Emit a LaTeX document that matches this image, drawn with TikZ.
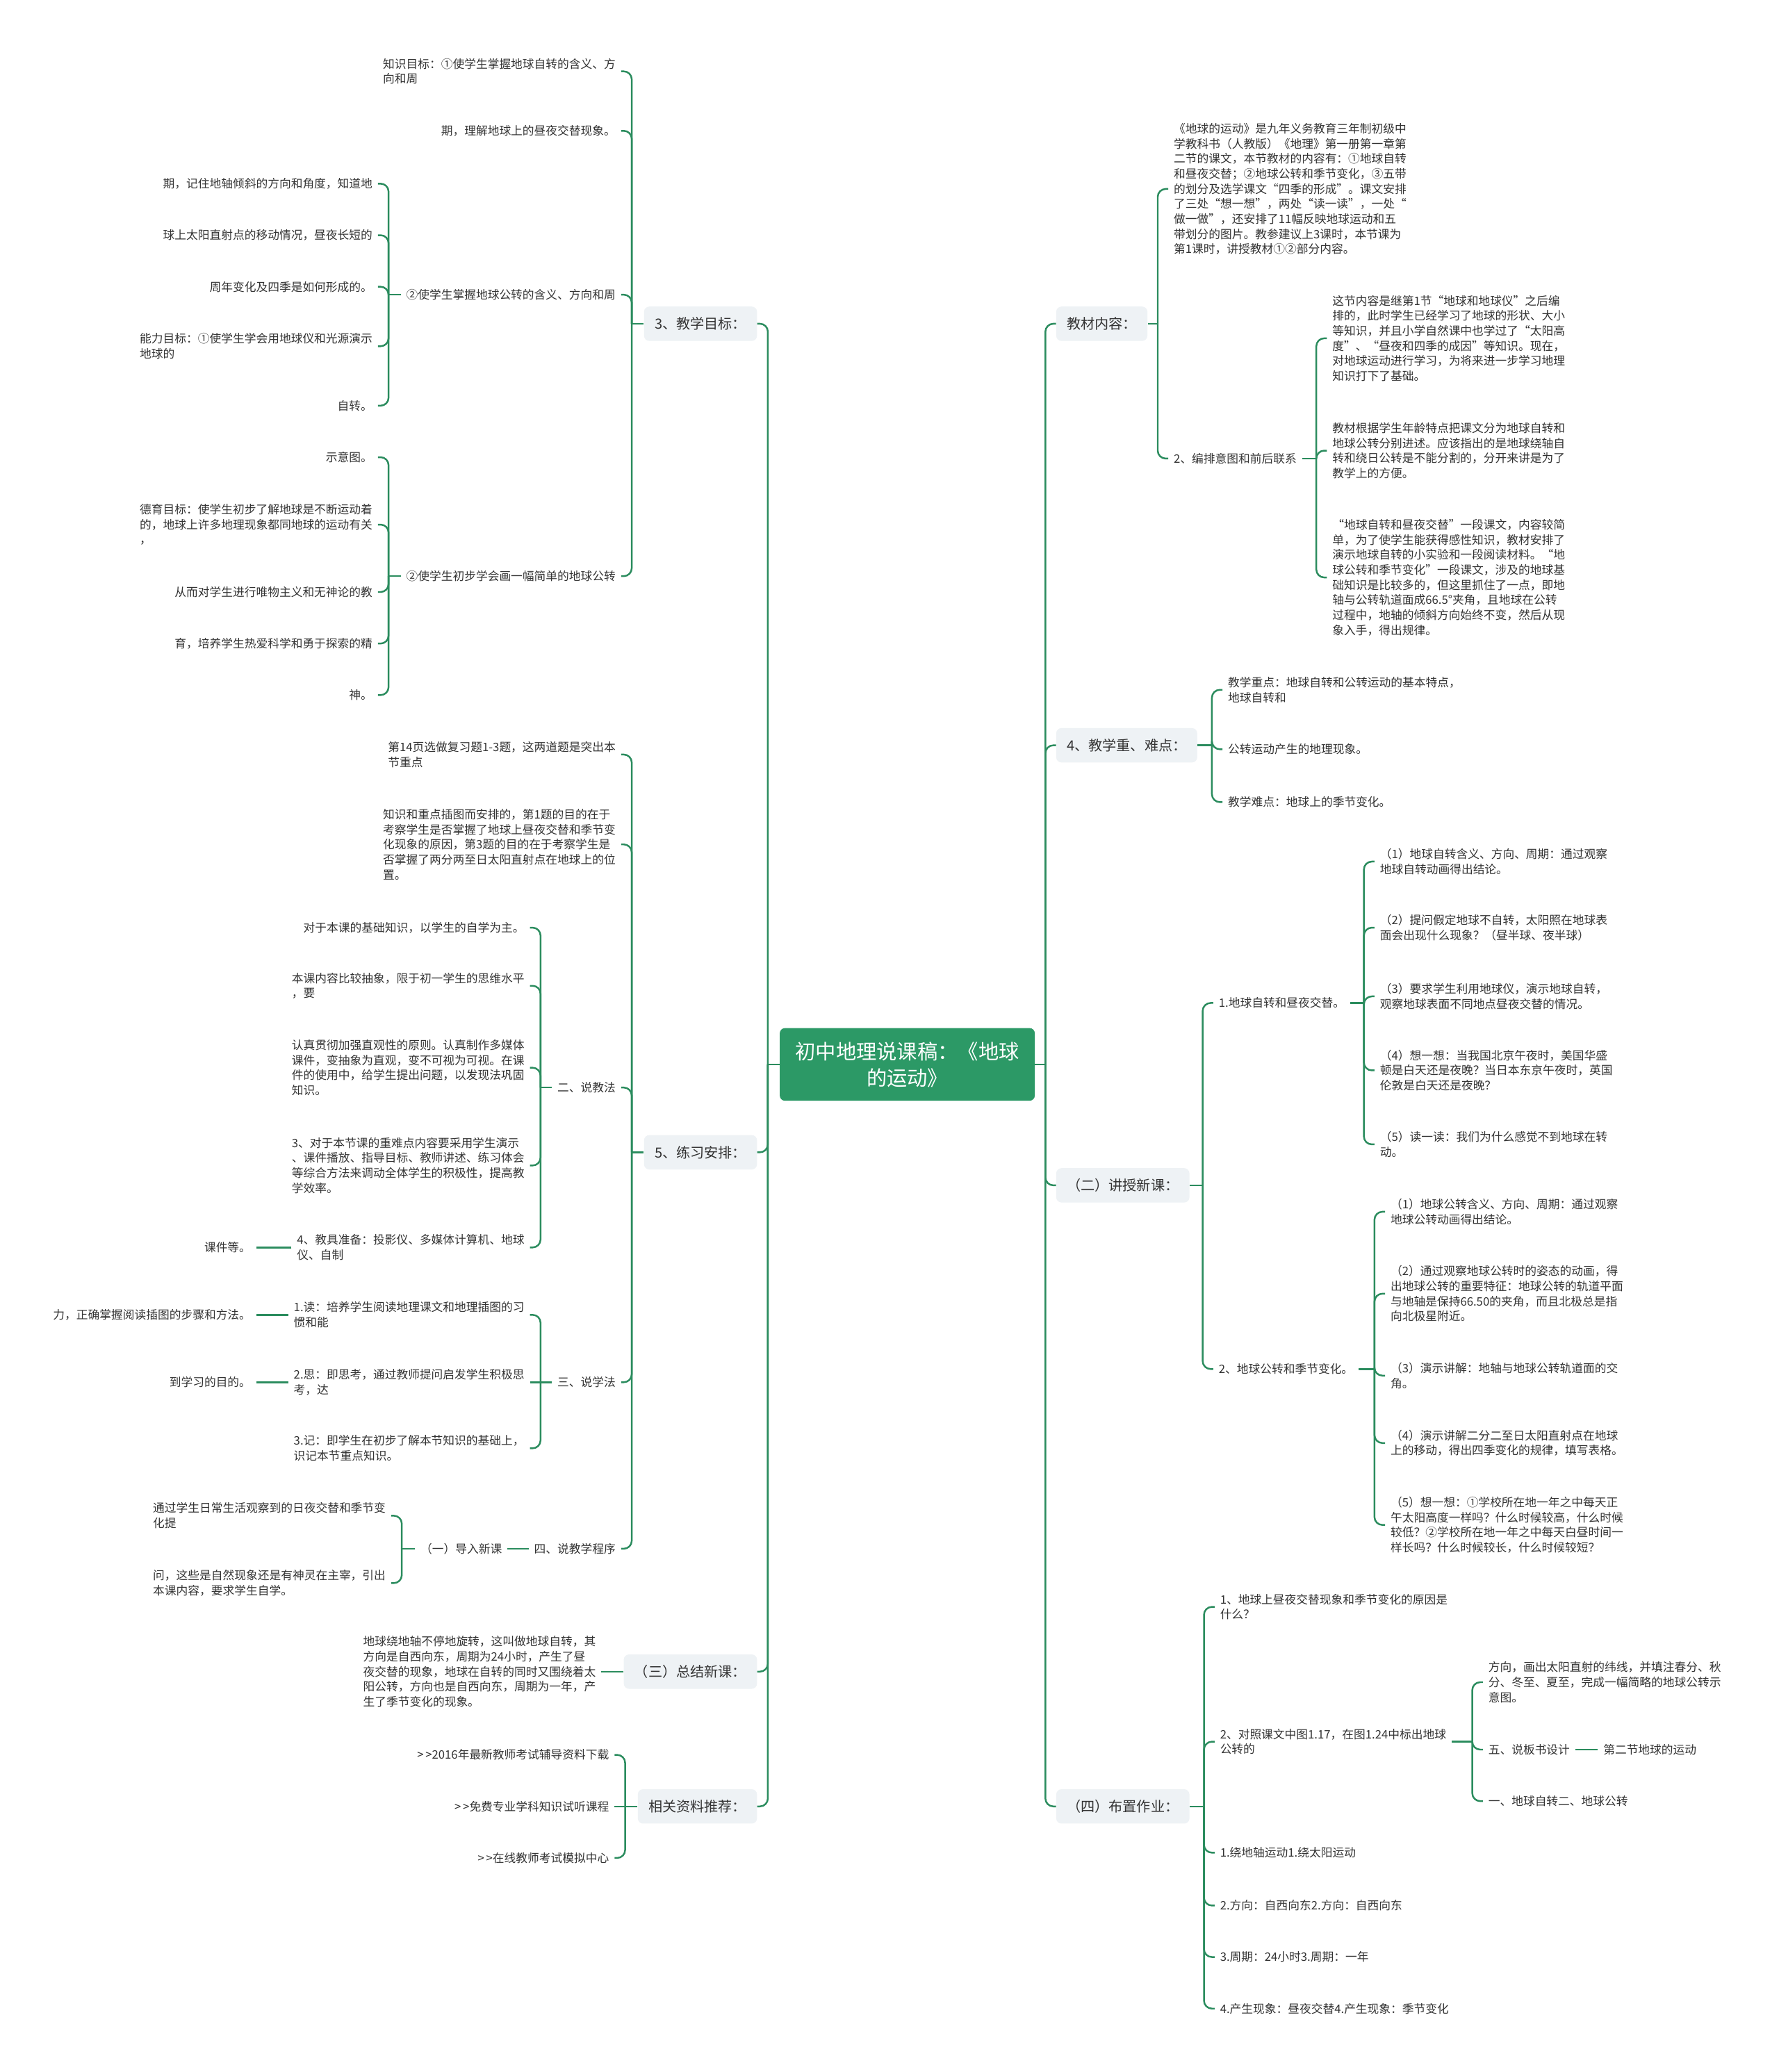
\documentclass[tikz,border=0pt]{standalone}
\usepackage{fontspec}
\setmainfont{Noto Sans CJK SC}
\definecolor{branch}{HTML}{2B8C5E}
\definecolor{rootfill}{HTML}{2C9966}
\definecolor{topicfill}{HTML}{EEF2F5}
\definecolor{ink}{HTML}{333333}

\begin{document}
\begin{tikzpicture}[x=1pt,y=-1pt,
  link/.style={draw=branch,line width=1.3pt,rounded corners=6pt},
  stem/.style={draw=branch,line width=1.3pt},
  rootnode/.style={fill=rootfill,rounded corners=4pt,text=white,align=center,minimum width=193pt,minimum height=55pt,font=\fontsize{15.4}{20}\selectfont},
  topic/.style={fill=topicfill,rounded corners=4pt,text=ink,inner xsep=8pt,minimum height=26pt,font=\fontsize{10.6}{13}\selectfont},
  leaf/.style={text=ink,align=left,inner xsep=4pt,inner ysep=1pt,font=\fontsize{8.8}{11.4}\selectfont},
  lleaf/.style={leaf,anchor=east},
  rleaf/.style={leaf,anchor=west}]
\useasboundingbox[fill=white] (0,0) rectangle (1346,1568);

\coordinate (tL) at (581,0);
\coordinate (tR) at (791,0);
\coordinate (tGoal) at (478,0);
\coordinate (tOrbit) at (294,0);
\coordinate (tPractice) at (478,0);
\coordinate (tTeach) at (409,0);
\coordinate (tIntro) at (304,0);
\coordinate (tRelated) at (473,0);
\coordinate (tMaterial) at (876,0);
\coordinate (tLayout) at (996,0);
\coordinate (tKey) at (917,0);
\coordinate (tLecture) at (910,0);
\coordinate (tSpin) at (1032,0);
\coordinate (tRevolve) at (1040,0);
\coordinate (tHomework) at (911,0);
\coordinate (tHwB) at (1114,0);

\node[rootnode] (root) at (686.5,805.5) {初中地理说课稿：《地球\\的运动》};

\node[topic,anchor=east] (goal) at (573,245) {3、教学目标：};
\node[topic,anchor=east] (practice) at (573,872) {5、练习安排：};
\node[topic,anchor=east] (summary) at (573,1265) {（三）总结新课：};
\node[topic,anchor=east] (related) at (573,1367) {相关资料推荐：};
\node[topic,anchor=west] (material) at (799,245) {教材内容：};
\node[topic,anchor=west] (keypoint) at (799,564) {4、教学重、难点：};
\node[topic,anchor=west] (lecture) at (799,897) {（二）讲授新课：};
\node[topic,anchor=west] (homework) at (799,1367) {（四）布置作业：};

\node[lleaf] (kgoal) at (470,54) {知识目标：①使学生掌握地球自转的含义、方\\向和周};
\node[lleaf] (kday) at (470,99) {期，理解地球上的昼夜交替现象。};
\node[lleaf] (orbit) at (470,223) {②使学生掌握地球公转的含义、方向和周};
\node[lleaf] (sketch) at (470,436) {②使学生初步学会画一幅简单的地球公转};
\node[lleaf] (orbitA) at (286,139) {期，记住地轴倾斜的方向和角度，知道地};
\node[lleaf] (orbitB) at (286,178) {球上太阳直射点的移动情况，昼夜长短的};
\node[lleaf] (orbitC) at (286,217) {周年变化及四季是如何形成的。};
\node[lleaf] (ability) at (286,262) {能力目标：①使学生学会用地球仪和光源演示\\地球的};
\node[lleaf] (rotate) at (286,307) {自转。};
\node[lleaf] (sketchA) at (286,346) {示意图。};
\node[lleaf] (moral) at (286,397) {德育目标：使学生初步了解地球是不断运动着\\的，地球上许多地理现象都同地球的运动有关\\，};
\node[lleaf] (moralB) at (286,448) {从而对学生进行唯物主义和无神论的教};
\node[lleaf] (moralC) at (286,487) {育，培养学生热爱科学和勇于探索的精};
\node[lleaf] (moralD) at (286,526) {神。};

\node[lleaf] (review) at (470,571) {第14页选做复习题1-3题，这两道题是突出本\\节重点};
\node[lleaf] (reviewB) at (470,639) {知识和重点插图而安排的，第1题的目的在于\\考察学生是否掌握了地球上昼夜交替和季节变\\化现象的原因，第3题的目的在于考察学生是\\否掌握了两分两至日太阳直射点在地球上的位\\置。};
\node[lleaf] (teach) at (470,823) {二、说教法};
\node[lleaf] (learn) at (470,1046) {三、说学法};
\node[lleaf] (program) at (470,1172) {四、说教学程序};
\node[lleaf] (selfstudy) at (401,702) {对于本课的基础知识，以学生的自学为主。};
\node[lleaf] (abstract) at (401,746) {本课内容比较抽象，限于初一学生的思维水平\\，要};
\node[lleaf] (visual) at (401,808) {认真贯彻加强直观性的原则。认真制作多媒体\\课件，变抽象为直观，变不可视为可视。在课\\件的使用中，给学生提出问题，以发现法巩固\\知识。};
\node[lleaf] (methods) at (401,882) {3、对于本节课的重难点内容要采用学生演示\\、课件播放、指导目标、教师讲述、练习体会\\等综合方法来调动全体学生的积极性，提高教\\学效率。};
\node[lleaf] (tools) at (401,944) {4、教具准备：投影仪、多媒体计算机、地球\\仪、自制};
\node[lleaf] (toolsB) at (194,944) {课件等。};
\node[lleaf] (read) at (401,995) {1.读：培养学生阅读地理课文和地理插图的习\\惯和能};
\node[lleaf] (readB) at (194,995) {力，正确掌握阅读插图的步骤和方法。};
\node[lleaf] (think) at (401,1046) {2.思：即思考，通过教师提问启发学生积极思\\考，达};
\node[lleaf] (thinkB) at (194,1046) {到学习的目的。};
\node[lleaf] (remember) at (401,1096) {3.记：即学生在初步了解本节知识的基础上，\\识记本节重点知识。};
\node[lleaf] (intro) at (384,1172) {（一）导入新课};
\node[lleaf] (introA) at (296,1147) {通过学生日常生活观察到的日夜交替和季节变\\化提};
\node[lleaf] (introB) at (296,1198) {问，这些是自然现象还是有神灵在主宰，引出\\本课内容，要求学生自学。};

\node[lleaf] (summaryText) at (455,1265) {地球绕地轴不停地旋转，这叫做地球自转，其\\方向是自西向东，周期为24小时，产生了昼\\夜交替的现象，地球在自转的同时又围绕着太\\阳公转，方向也是自西向东，周期为一年，产\\生了季节变化的现象。};
\node[lleaf] (linkA) at (465,1328) {>\,>2016年最新教师考试辅导资料下载};
\node[lleaf] (linkB) at (465,1367) {>\,>免费专业学科知识试听课程};
\node[lleaf] (linkC) at (465,1406) {>\,>在线教师考试模拟中心};

\node[rleaf] (textbook) at (884,143) {《地球的运动》是九年义务教育三年制初级中\\学教科书（人教版）《地理》第一册第一章第\\二节的课文，本节教材的内容有：①地球自转\\和昼夜交替；②地球公转和季节变化，③五带\\的划分及选学课文“四季的形成”。课文安排\\了三处“想一想”，两处“读一读”，一处“\\做一做”，还安排了11幅反映地球运动和五\\带划分的图片。教参建议上3课时，本节课为\\第1课时，讲授教材①②部分内容。};
\node[rleaf] (layout) at (884,347) {2、编排意图和前后联系};
\node[rleaf] (layoutA) at (1004,256) {这节内容是继第1节“地球和地球仪”之后编\\排的，此时学生已经学习了地球的形状、大小\\等知识，并且小学自然课中也学过了“太阳高\\度”、“昼夜和四季的成因”等知识。现在，\\对地球运动进行学习，为将来进一步学习地理\\知识打下了基础。};
\node[rleaf] (layoutB) at (1004,341) {教材根据学生年龄特点把课文分为地球自转和\\地球公转分别进述。应该指出的是地球绕轴自\\转和绕日公转是不能分割的，分开来讲是为了\\教学上的方便。};
\node[rleaf] (layoutC) at (1004,437) {“地球自转和昼夜交替”一段课文，内容较简\\单，为了使学生能获得感性知识，教材安排了\\演示地球自转的小实验和一段阅读材料。“地\\球公转和季节变化”一段课文，涉及的地球基\\础知识是比较多的，但这里抓住了一点，即地\\轴与公转轨道面成66.5°夹角，且地球在公转\\过程中，地轴的倾斜方向始终不变，然后从现\\象入手，得出规律。};

\node[rleaf] (focus) at (925,522) {教学重点：地球自转和公转运动的基本特点，\\地球自转和};
\node[rleaf] (focusB) at (925,567) {公转运动产生的地理现象。};
\node[rleaf] (difficulty) at (925,607) {教学难点：地球上的季节变化。};

\node[rleaf] (spin) at (918,759) {1.地球自转和昼夜交替。};
\node[rleaf] (revolve) at (918,1036) {2、地球公转和季节变化。};
\node[rleaf] (spinA) at (1040,652) {（1）地球自转含义、方向、周期：通过观察\\地球自转动画得出结论。};
\node[rleaf] (spinB) at (1040,702) {（2）提问假定地球不自转，太阳照在地球表\\面会出现什么现象？（昼半球、夜半球）};
\node[rleaf] (spinC) at (1040,754) {（3）要求学生利用地球仪，演示地球自转，\\观察地球表面不同地点昼夜交替的情况。};
\node[rleaf] (spinD) at (1040,810) {（4）想一想：当我国北京午夜时，美国华盛\\顿是白天还是夜晚？当日本东京午夜时，英国\\伦敦是白天还是夜晚？};
\node[rleaf] (spinE) at (1040,866) {（5）读一读：我们为什么感觉不到地球在转\\动。};
\node[rleaf] (revA) at (1048,917) {（1）地球公转含义、方向、周期：通过观察\\地球公转动画得出结论。};
\node[rleaf] (revB) at (1048,979) {（2）通过观察地球公转时的姿态的动画，得\\出地球公转的重要特征：地球公转的轨道平面\\与地轴是保持66.50的夹角，而且北极总是指\\向北极星附近。};
\node[rleaf] (revC) at (1048,1041) {（3）演示讲解：地轴与地球公转轨道面的交\\角。};
\node[rleaf] (revD) at (1048,1092) {（4）演示讲解二分二至日太阳直射点在地球\\上的移动，得出四季变化的规律，填写表格。};
\node[rleaf] (revE) at (1048,1154) {（5）想一想：①学校所在地一年之中每天正\\午太阳高度一样吗？什么时候较高，什么时候\\较低？②学校所在地一年之中每天白昼时间一\\样长吗？什么时候较长，什么时候较短？};

\node[rleaf] (hwA) at (919,1216) {1、地球上昼夜交替现象和季节变化的原因是\\什么？};
\node[rleaf] (hwB) at (919,1318) {2、对照课文中图1.17，在图1.24中标出地球\\公转的};
\node[rleaf] (hwC) at (919,1402) {1.绕地轴运动1.绕太阳运动};
\node[rleaf] (hwD) at (919,1442) {2.方向：自西向东2.方向：自西向东};
\node[rleaf] (hwE) at (919,1481) {3.周期：24小时3.周期：一年};
\node[rleaf] (hwF) at (919,1520) {4.产生现象：昼夜交替4.产生现象：季节变化};
\node[rleaf] (hwBa) at (1122,1273) {方向，画出太阳直射的纬线，并填注春分、秋\\分、冬至、夏至，完成一幅简略的地球公转示\\意图。};
\node[rleaf] (board) at (1122,1324) {五、说板书设计};
\node[rleaf] (boardB) at (1209,1324) {第二节地球的运动};
\node[rleaf] (hwBc) at (1122,1363) {一、地球自转二、地球公转};

\draw[stem] (root.west) -- (root.west -| tL);
\draw[link] (root.west -| tL) |- (goal.east);
\draw[link] (root.west -| tL) |- (practice.east);
\draw[link] (root.west -| tL) |- (summary.east);
\draw[link] (root.west -| tL) |- (related.east);
\draw[stem] (root.east) -- (root.east -| tR);
\draw[link] (root.east -| tR) |- (material.west);
\draw[link] (root.east -| tR) |- (keypoint.west);
\draw[link] (root.east -| tR) |- (lecture.west);
\draw[link] (root.east -| tR) |- (homework.west);

\draw[stem] (goal.west) -- (goal.west -| tGoal);
\draw[link] (goal.west -| tGoal) |- (kgoal.east);
\draw[link] (goal.west -| tGoal) |- (kday.east);
\draw[link] (goal.west -| tGoal) |- (orbit.east);
\draw[link] (goal.west -| tGoal) |- (sketch.east);
\draw[stem] (orbit.west) -- (orbit.west -| tOrbit);
\draw[link] (orbit.west -| tOrbit) |- (orbitA.east);
\draw[link] (orbit.west -| tOrbit) |- (orbitB.east);
\draw[link] (orbit.west -| tOrbit) |- (orbitC.east);
\draw[link] (orbit.west -| tOrbit) |- (ability.east);
\draw[link] (orbit.west -| tOrbit) |- (rotate.east);
\draw[stem] (sketch.west) -- (sketch.west -| tOrbit);
\draw[link] (sketch.west -| tOrbit) |- (sketchA.east);
\draw[link] (sketch.west -| tOrbit) |- (moral.east);
\draw[link] (sketch.west -| tOrbit) |- (moralB.east);
\draw[link] (sketch.west -| tOrbit) |- (moralC.east);
\draw[link] (sketch.west -| tOrbit) |- (moralD.east);

\draw[stem] (practice.west) -- (practice.west -| tPractice);
\draw[link] (practice.west -| tPractice) |- (review.east);
\draw[link] (practice.west -| tPractice) |- (reviewB.east);
\draw[link] (practice.west -| tPractice) |- (teach.east);
\draw[link] (practice.west -| tPractice) |- (learn.east);
\draw[link] (practice.west -| tPractice) |- (program.east);
\draw[stem] (teach.west) -- (teach.west -| tTeach);
\draw[link] (teach.west -| tTeach) |- (selfstudy.east);
\draw[link] (teach.west -| tTeach) |- (abstract.east);
\draw[link] (teach.west -| tTeach) |- (visual.east);
\draw[link] (teach.west -| tTeach) |- (methods.east);
\draw[link] (teach.west -| tTeach) |- (tools.east);
\draw[stem] (tools.west) -- (toolsB.east);
\draw[stem] (learn.west) -- (think.east);
\draw[link] (learn.west -| tTeach) |- (read.east);
\draw[link] (learn.west -| tTeach) |- (remember.east);
\draw[stem] (read.west) -- (readB.east);
\draw[stem] (think.west) -- (thinkB.east);
\draw[stem] (program.west) -- (intro.east);
\draw[stem] (intro.west) -- (intro.west -| tIntro);
\draw[link] (intro.west -| tIntro) |- (introA.east);
\draw[link] (intro.west -| tIntro) |- (introB.east);

\draw[stem] (summary.west) -- (summaryText.east);
\draw[stem] (related.west) -- (linkB.east);
\draw[link] (related.west -| tRelated) |- (linkA.east);
\draw[link] (related.west -| tRelated) |- (linkC.east);

\draw[stem] (material.east) -- (material.east -| tMaterial);
\draw[link] (material.east -| tMaterial) |- (textbook.west);
\draw[link] (material.east -| tMaterial) |- (layout.west);
\draw[stem] (layout.east) -- (layout.east -| tLayout);
\draw[link] (layout.east -| tLayout) |- (layoutA.west);
\draw[link] (layout.east -| tLayout) |- (layoutB.west);
\draw[link] (layout.east -| tLayout) |- (layoutC.west);

\draw[stem] (keypoint.east) -- (keypoint.east -| tKey);
\draw[link] (keypoint.east -| tKey) |- (focus.west);
\draw[link] (keypoint.east -| tKey) |- (focusB.west);
\draw[link] (keypoint.east -| tKey) |- (difficulty.west);

\draw[stem] (lecture.east) -- (lecture.east -| tLecture);
\draw[link] (lecture.east -| tLecture) |- (spin.west);
\draw[link] (lecture.east -| tLecture) |- (revolve.west);
\draw[stem] (spin.east) -- (spin.east -| tSpin);
\draw[link] (spin.east -| tSpin) |- (spinA.west);
\draw[link] (spin.east -| tSpin) |- (spinB.west);
\draw[link] (spin.east -| tSpin) |- (spinC.west);
\draw[link] (spin.east -| tSpin) |- (spinD.west);
\draw[link] (spin.east -| tSpin) |- (spinE.west);
\draw[stem] (revolve.east) -- (revolve.east -| tRevolve);
\draw[link] (revolve.east -| tRevolve) |- (revA.west);
\draw[link] (revolve.east -| tRevolve) |- (revB.west);
\draw[link] (revolve.east -| tRevolve) |- (revC.west);
\draw[link] (revolve.east -| tRevolve) |- (revD.west);
\draw[link] (revolve.east -| tRevolve) |- (revE.west);

\draw[stem] (homework.east) -- (homework.east -| tHomework);
\draw[link] (homework.east -| tHomework) |- (hwA.west);
\draw[link] (homework.east -| tHomework) |- (hwB.west);
\draw[link] (homework.east -| tHomework) |- (hwC.west);
\draw[link] (homework.east -| tHomework) |- (hwD.west);
\draw[link] (homework.east -| tHomework) |- (hwE.west);
\draw[link] (homework.east -| tHomework) |- (hwF.west);
\draw[stem] (hwB.east) -- (hwB.east -| tHwB);
\draw[link] (hwB.east -| tHwB) |- (hwBa.west);
\draw[link] (hwB.east -| tHwB) |- (board.west);
\draw[link] (hwB.east -| tHwB) |- (hwBc.west);
\draw[stem] (board.east) -- (boardB.west);
\end{tikzpicture}
\end{document}
